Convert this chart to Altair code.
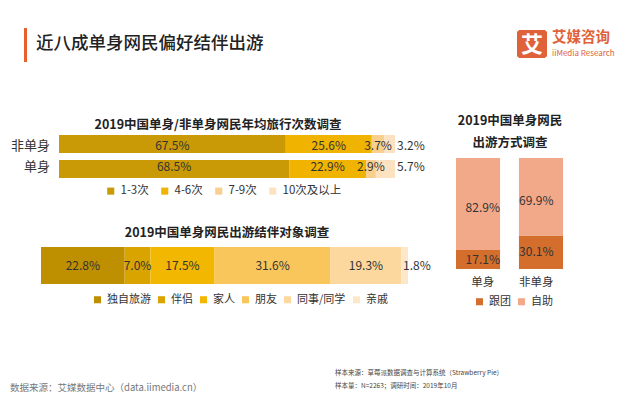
import altair as alt
import pandas as pd

FONT = "Noto Sans CJK SC"
TXT = "#333333"

# ---------------- data ----------------
main_title = ["近八成单身网民偏好结伴出游"]
logo_char = ["艾"]
logo_name = ["艾媒咨询"]
logo_sub = ["iiMedia Research"]

freq_title = ["2019中国单身/非单身网民年均旅行次数调查"]
freq_groups = ["非单身", "单身"]
freq_cats = ["1-3次", "4-6次", "7-9次", "10次及以上"]
freq_nonsingle = [67.5, 25.6, 3.7, 3.2]
freq_single = [68.5, 22.9, 2.9, 5.7]
freq_colors = ["#C99A06", "#F0B400", "#F8CF8C", "#FCE2C0"]

comp_title = ["2019中国单身网民出游结伴对象调查"]
comp_cats = ["独自旅游", "伴侣", "家人", "朋友", "同事/同学", "亲戚"]
comp_vals = [22.8, 7.0, 17.5, 31.6, 19.3, 1.8]
comp_colors = ["#BE9000", "#D9A300", "#F2B700", "#F9C65C", "#FCD89E", "#FDE7CB"]

mode_title = ["2019中国单身网民", "出游方式调查"]
mode_groups = ["单身", "非单身"]
mode_cats = ["跟团", "自助"]
mode_single = [17.1, 82.9]
mode_nonsingle = [30.1, 69.9]
mode_colors = ["#D46E2C", "#F2A98A"]

footer_left = ["数据来源：艾媒数据中心（data.iimedia.cn）"]
footer_right = ["样本来源：草莓派数据调查与计算系统（Strawberry Pie）", "样本量：N=2263；调研时间：2019年10月"]


def stack(cats, vals, grp=""):
    rows, s = [], 0.0
    for i, (c, v) in enumerate(zip(cats, vals)):
        rows.append(dict(grp=grp, cat=c, val=v, start=s, end=s + v, mid=s + v / 2,
                         label=f"{v:.1f}%", last=(i == len(cats) - 1), order=i))
        s += v
    return rows


df1 = pd.DataFrame(stack(freq_cats, freq_nonsingle, "非单身") + stack(freq_cats, freq_single, "单身"))
df2 = pd.DataFrame(stack(comp_cats, comp_vals))
df3 = pd.DataFrame(stack(mode_cats, mode_single, "单身") + stack(mode_cats, mode_nonsingle, "非单身"))


def txt(lines, x, y, size, **kw):
    d = pd.DataFrame({"t": lines, "i": list(range(len(lines)))})
    lh = kw.pop("lh", 0)
    return alt.Chart(d).mark_text(font=FONT, fontSize=size, **kw).transform_calculate(
        yy=f"{y} + datum.i * {lh}"
    ).encode(x=alt.value(x), y=alt.Y("yy:Q", scale=None), text="t:N")


layers = []

# ---------------- header ----------------
layers.append(alt.Chart(pd.DataFrame({"a": [0]})).mark_rect(color="#E8612C").encode(
    x=alt.value(16), x2=alt.value(19), y=alt.value(20), y2=alt.value(54)))
layers.append(txt(main_title, 28, 36, 17.5, align="left", baseline="middle", color="#222222", fontWeight=500))
layers.append(alt.Chart(pd.DataFrame({"a": [0]})).mark_rect(color="#E0623A", cornerRadius=3).encode(
    x=alt.value(509), x2=alt.value(539), y=alt.value(22), y2=alt.value(50)))
layers.append(txt(logo_char, 524, 37, 22, align="center", baseline="middle", color="white", fontWeight="bold"))
layers.append(txt(logo_name, 544, 30, 14.5, align="left", baseline="middle", color="#E0623A", fontWeight="bold"))
layers.append(txt(logo_sub, 544, 46, 8, align="left", baseline="middle", color="#E0623A"))

# ---------------- chart 1 ----------------
x1 = alt.Scale(domain=[0, 100], range=[51, 387])
y1 = alt.Scale(domain=freq_groups, range=[127, 170], paddingInner=0.28, paddingOuter=0)
layers.append(txt(freq_title, 210, 117, 12.5, align="center", baseline="middle", color="#222222", fontWeight="bold"))
layers.append(alt.Chart(df1).mark_bar().encode(
    x=alt.X("start:Q", scale=x1, axis=None), x2="end:Q",
    y=alt.Y("grp:N", scale=y1, axis=None),
    color=alt.Color("cat:N", scale=alt.Scale(domain=freq_cats, range=freq_colors),
                    legend=alt.Legend(orient="none", legendX=97, legendY=177, direction="horizontal",
                                      title=None, symbolType="square", symbolSize=50, symbolStrokeWidth=0,
                                      labelFont=FONT, labelFontSize=11.5, labelColor=TXT, columnPadding=10,
                                      labelOffset=4)),
    order="order:Q"))
layers.append(alt.Chart(df1).mark_text(font=FONT, fontSize=12, color=TXT, baseline="middle").transform_filter(
    "!datum.last").encode(
    x=alt.X("mid:Q", scale=x1, axis=None), y=alt.Y("grp:N", scale=y1, axis=None), text="label:N"))
layers.append(alt.Chart(df1).mark_text(font=FONT, fontSize=12, color=TXT, baseline="middle", align="left", dx=2).transform_filter(
    "datum.last").encode(
    x=alt.X("end:Q", scale=x1, axis=None), y=alt.Y("grp:N", scale=y1, axis=None), text="label:N"))
layers.append(alt.Chart(pd.DataFrame({"grp": freq_groups})).mark_text(
    font=FONT, fontSize=13, color=TXT, baseline="middle", align="right").encode(
    x=alt.value(42), y=alt.Y("grp:N", scale=y1, axis=None), text="grp:N"))

# ---------------- chart 2 ----------------
x2 = alt.Scale(domain=[0, 100], range=[33, 400])
layers.append(txt(comp_title, 219, 225, 12.5, align="center", baseline="middle", color="#222222", fontWeight="bold"))
layers.append(alt.Chart(df2).mark_bar().encode(
    x=alt.X("start:Q", scale=x2, axis=None), x2="end:Q",
    y=alt.value(239), y2=alt.value(276),
    color=alt.Color("cat:N", scale=alt.Scale(domain=comp_cats, range=comp_colors),
                    legend=alt.Legend(orient="none", legendX=84, legendY=286, direction="horizontal",
                                      title=None, symbolType="square", symbolSize=50, symbolStrokeWidth=0,
                                      labelFont=FONT, labelFontSize=11, labelColor=TXT, columnPadding=5,
                                      labelOffset=4))))
layers.append(alt.Chart(df2).mark_text(font=FONT, fontSize=12, color=TXT, baseline="middle").transform_filter(
    "!datum.last").encode(
    x=alt.X("mid:Q", scale=x2, axis=None), y=alt.value(257.5), text="label:N"))
layers.append(alt.Chart(df2).mark_text(font=FONT, fontSize=12, color=TXT, baseline="middle", align="left", dx=-5).transform_filter(
    "datum.last").encode(
    x=alt.X("end:Q", scale=x2, axis=None), y=alt.value(257.5), text="label:N"))

# ---------------- chart 3 ----------------
x3 = alt.Scale(domain=mode_groups, range=[448, 555], paddingInner=0.3, paddingOuter=0)
y3 = alt.Scale(domain=[0, 100], range=[261, 150])
layers.append(txt(mode_title, 502, 113, 12.5, align="center", baseline="middle", color="#222222",
                  fontWeight="bold", lh=22))
layers.append(alt.Chart(df3).mark_bar().encode(
    x=alt.X("grp:N", scale=x3, axis=None),
    y=alt.Y("start:Q", scale=y3, axis=None), y2="end:Q",
    color=alt.Color("cat:N", scale=alt.Scale(domain=mode_cats, range=mode_colors),
                    legend=alt.Legend(orient="none", legendX=466, legendY=288, direction="horizontal",
                                      title=None, symbolType="square", symbolSize=50, symbolStrokeWidth=0,
                                      labelFont=FONT, labelFontSize=11, labelColor=TXT, columnPadding=5,
                                      labelOffset=4))))
layers.append(alt.Chart(df3).mark_text(font=FONT, fontSize=12, color=TXT, baseline="middle").transform_filter(
    "!datum.last").encode(
    x=alt.X("grp:N", scale=x3, axis=None), y=alt.Y("mid:Q", scale=y3, axis=None), text="label:N"))
layers.append(alt.Chart(df3).mark_text(font=FONT, fontSize=12, color=TXT, baseline="middle", dy=4).transform_filter(
    "datum.last").encode(
    x=alt.X("grp:N", scale=x3, axis=None), y=alt.Y("mid:Q", scale=y3, axis=None), text="label:N"))
layers.append(alt.Chart(pd.DataFrame({"grp": mode_groups})).mark_text(
    font=FONT, fontSize=11.5, color=TXT, baseline="middle").encode(
    x=alt.X("grp:N", scale=x3, axis=None), y=alt.value(275), text="grp:N"))

# ---------------- footer ----------------
layers.append(txt(footer_left, 2, 380, 9.5, align="left", baseline="middle", color="#777777"))
layers.append(txt(footer_right, 327, 365, 6.5, align="left", baseline="middle", color="#444444", lh=13))

chart = alt.layer(*layers).resolve_scale(
    x="independent", y="independent", color="independent"
).resolve_legend(color="independent").properties(
    width=615, height=387, padding=0, autosize=alt.AutoSizeParams(type="none"), background="white"
).configure_view(stroke=None)

chart.save("out.html", embed_options={"renderer": "svg", "actions": False})
